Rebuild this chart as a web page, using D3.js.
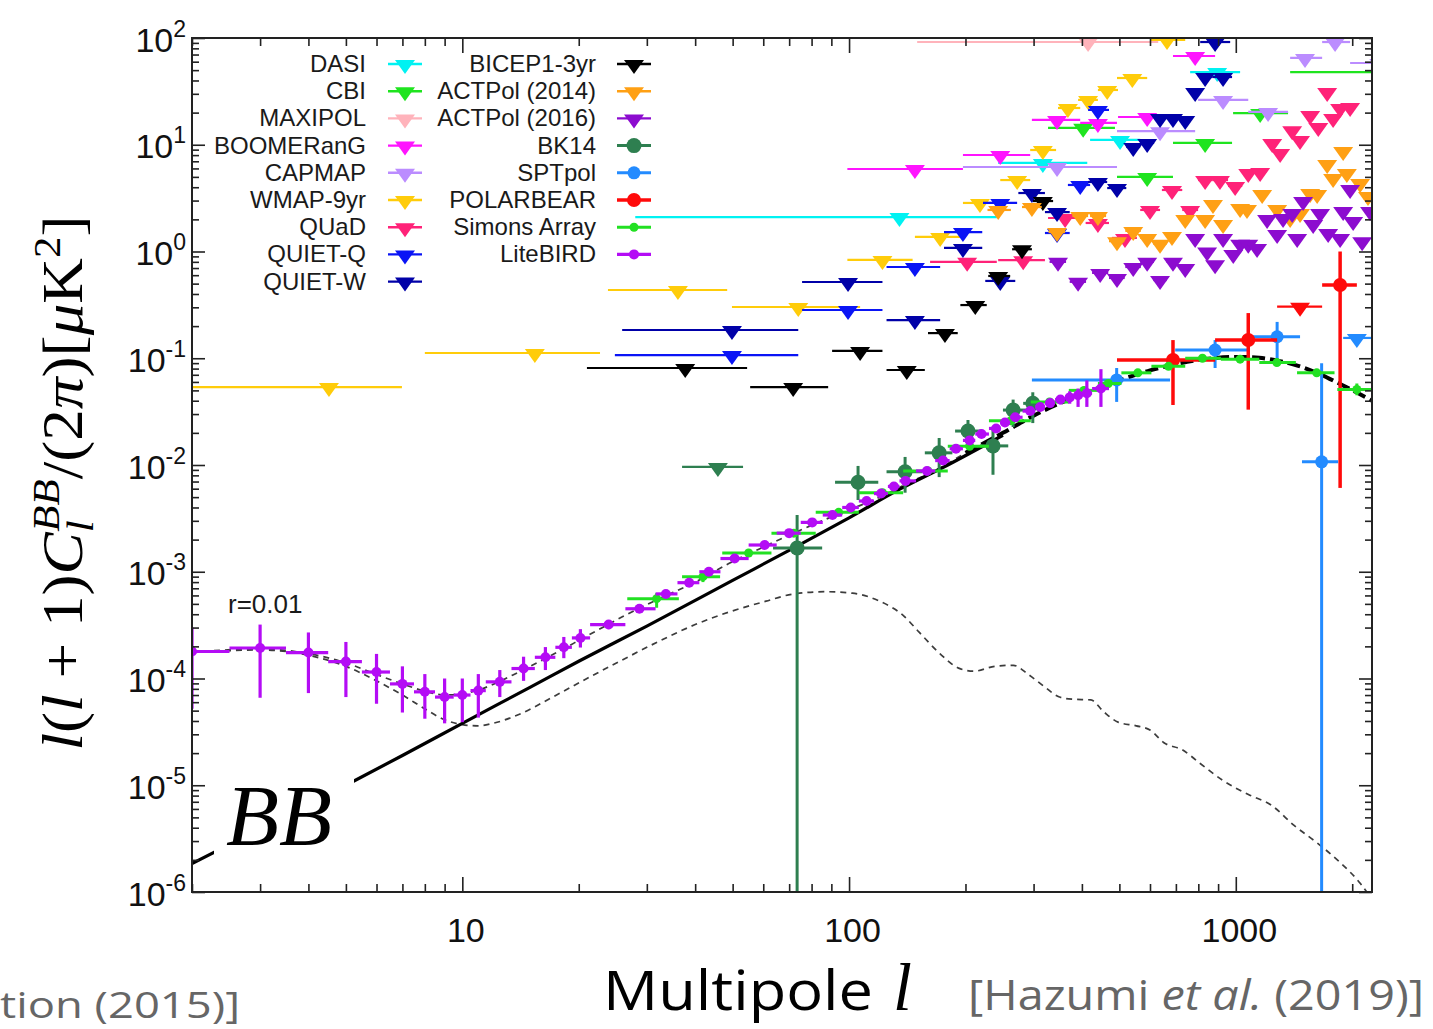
<!DOCTYPE html>
<html>
<head>
<meta charset="utf-8">
<script src="https://cdn.jsdelivr.net/npm/d3@7"></script>
<style>
  html, body { margin: 0; padding: 0; background: #fff; }
  svg { display: block; }
</style>
</head>
<body>
<svg id="chart" width="1433" height="1029"></svg>
<script>
// ---------------- Theory curves: [multipole l, l(l+1)C_l/2pi in uK^2] ----------------
const lensingBB = [[2,1.85e-6],[3,3.9e-6],[5,1.0e-5],[7,1.9e-5],[10,3.8e-5],[15,8.3e-5],[20,1.45e-4],
  [30,3.1e-4],[50,8.3e-4],[73,1.72e-3],[100,3.2e-3],[136,6.0e-3],[180,1.0e-2],[250,1.9e-2]];
const totalHighL = [[200,1.3e-2],[250,2.0e-2],[300,2.9e-2],[400,4.6e-2],[500,6.2e-2],[600,7.7e-2],
  [700,8.8e-2],[850,0.099],[1000,0.103],[1150,0.101],[1300,0.094],[1450,0.085],[1650,0.071],
  [1850,0.058],[2050,0.048],[2250,0.040]];
const totalLowL = [[2,1.77e-4],[3,1.89e-4],[4,1.71e-4],[5,1.4e-4],[6,1.09e-4],[7,8.9e-5],[8,7.6e-5],
  [9,7.0e-5],[10,7.2e-5],[11,7.8e-5],[12,8.8e-5],[14,1.15e-4],[17,1.65e-4],[21,2.5e-4],[26,3.8e-4],
  [32,5.5e-4],[40,8.0e-4],[49,1.2e-3],[61,1.75e-3],[72,2.3e-3],[87,3.1e-3],[102,3.9e-3],[120,5.0e-3],
  [140,6.6e-3],[170,9.2e-3],[200,1.3e-2]];
const tensorBB = [[2,1.75e-4],[3,1.85e-4],[4,1.65e-4],[5,1.3e-4],[6,9.5e-5],[7,7.0e-5],[8,5.2e-5],
  [9,4.1e-5],[10,3.7e-5],[11,3.6e-5],[12,3.8e-5],[14,4.6e-5],[17,6.6e-5],[21,1.0e-4],[26,1.5e-4],
  [32,2.2e-4],[40,3.2e-4],[49,4.2e-4],[61,5.3e-4],[72,6.2e-4],[87,6.5e-4],[102,6.3e-4],[120,5.3e-4],
  [138,3.9e-4],[152,2.7e-4],[172,1.7e-4],[192,1.25e-4],[210,1.17e-4],[238,1.3e-4],[266,1.33e-4],
  [290,1.1e-4],[321,8.3e-5],[350,6.7e-5],[377,6.4e-5],[422,6.3e-5],[455,4.9e-5],[496,3.9e-5],
  [553,3.6e-5],[600,3.3e-5],[652,2.5e-5],[727,2.15e-5],[809,1.6e-5],[929,1.1e-5],[1078,8.2e-6],
  [1236,6.5e-6],[1415,4.2e-6],[1620,2.9e-6],[1858,1.9e-6],[2100,1.2e-6],[2250,8.5e-7]];

// ---------------- Upper limits: [l centre, limit, l min, l max] ----------------
const dasi = [[135,2.1,28,241],[317,6.75,243,413],[502,11.1,420,566],[895,48,762,1026]];
const cbi = [[403,14.4,327,487],[590,5.0,493,688],[833,10.4,688,978],[1156,19.8,984,1365],[2450,48,1382,3200]];
const maxipol = [[415,91.7,150,630]];
const boomerang = [[148,5.93,99,197],[246,8.02,197,294],[345,17.1,297,396],[440,16.0,396,493],
  [590,18.2,496,705],[785,67.8,688,884]];
const capmap = [[345,6.19,197,493],[637,13.4,493,785],[927,26.3,799,1077],[1212,20.3,1077,1365],
  [1510,65,1382,1672],[1806,91.7,1672,1975],[2350,58.3,1975,2800]];
const wmap9 = [[4.52,0.0537,2,6.98],[15.4,0.112,8.0,22.7],[36.1,0.436,23.8,48.4],[73.9,0.302,49.8,106.8],
  [122,0.833,99,146],[172,1.37,148,194],[218,2.85,197,236],[272,4.67,246,294],[317,8.93,294,343],
  [368,22.1,347,396],[415,26.3,391,440],[465,32.6,440,496],[540,42.2,493,590],[664,95.8,600,740]];
const quad = [[202,0.80,162,241],[282,0.83,243,321],[362,2.06,327,400],[440,1.85,409,470],
  [517,1.34,478,555],[600,2.45,566,637],[684,3.77,644,727],[762,2.45,727,799],[833,4.67,799,869],
  [910,4.67,869,955],[996,4.11,955,1039],[1077,5.44,1039,1116],[1156,5.56,1116,1199],
  [1242,10.4,1199,1275],[1302,8.37,1275,1349],[1399,13.7,1349,1433],[1466,11.1,1433,1510],
  [1557,19.0,1520,1594],[1634,14.7,1596,1672],[1723,31.2,1680,1765],[1785,17.8,1765,1805],
  [1861,22.1,1820,1900],[1975,22.6,1930,2020]];
const quietQ = [[49.8,0.107,24.8,73.9],[99.4,0.283,75.6,122],[148,0.716,125,172],[197,1.52,176,221],
  [246,2.85,222,272],[345,1.49,321,372],[396,4.2,368,420],[440,21.2,415,470]];
const quietW = [[49.8,0.184,25.9,73.9],[99.4,0.518,75.6,122],[148,0.228,125,172],[197,1.08,176,221],
  [246,0.53,225,269],[297,3.53,274,321],[345,2.34,321,372],[440,4.48,415,465],[493,3.93,465,521],
  [543,9.53,521,566],[590,10.4,566,615],[637,17.8,615,660],[688,17.8,660,715],[740,17.1,715,766],
  [785,31.2,762,809],[833,43.1,809,869],[927,43.1,869,978],[884,91.7,809,967]];
const bicep1 = [[37.7,0.081,21.0,54.5],[71.7,0.0537,55.5,88.3],[106.8,0.117,90.4,122],[141,0.0776,125,157],
  [177,0.172,160,191],[212,0.315,194,227],[243,0.59,229,261],[280,1.05,264,297],[317,2.97,299,337]];
const actpol2014 = [[243,2.45,228,262],[297,2.61,280,315],[345,1.52,328,362],[396,2.15,378,415],
  [440,2.15,420,462],[493,1.25,470,515],[543,1.56,518,568],[590,1.34,566,615],[637,1.18,612,662],
  [684,1.40,660,710],[740,2.02,712,770],[833,2.02,800,866],[873,2.79,845,900],[927,1.81,895,960],
  [1026,2.56,990,1062],[1069,2.50,1035,1105],[1170,3.46,1130,1210],[1279,2.50,1235,1325],
  [1382,2.06,1340,1425],[1466,2.29,1425,1510],[1557,3.53,1510,1600],[1623,3.46,1580,1665],
  [1723,6.60,1680,1765],[1785,4.88,1740,1830],[1895,8.74,1850,1940],[1937,5.44,1890,1985],
  [2096,4.38,2045,2150],[2197,3.31,2140,2250]];
const actpol2016 = [[347,0.80,330,364],[391,0.52,372,410],[446,0.63,425,468],[493,0.565,470,516],
  [543,0.716,518,568],[590,0.80,566,614],[637,0.54,612,662],[688,0.80,662,714],[740,0.70,714,766],
  [785,1.34,760,810],[843,1.00,815,870],[884,0.76,855,912],[927,1.34,897,957],[985,0.95,955,1015],
  [1026,1.18,995,1057],[1077,1.18,1045,1110],[1135,1.08,1100,1170],[1205,2.02,1170,1240],
  [1279,1.46,1242,1316],[1325,2.06,1288,1362],[1399,2.29,1360,1438],[1441,1.34,1400,1482],
  [1493,2.97,1452,1534],[1585,1.81,1542,1628],[1652,2.29,1608,1696],[1733,1.49,1688,1778],
  [1861,1.34,1815,1907],[1895,2.40,1848,1942],[1975,3.85,1925,2025],[2011,1.93,1960,2062],
  [2122,1.25,2070,2175],[2224,2.40,2170,2280]];
const bk14Limits = [[45.8,0.0096,37.0,53.2]];
const sptpolLimits = [[2056,0.155,1895,2260]];
const polarbearLimits = [[1466,0.304,1279,1672]];

// ---------------- Detections: [l, value, low, high, l min, l max] ----------------
const bk14 = [[73.4,1.67e-3,1e-7,3.4e-3,63.6,85.2],[105.5,6.9e-3,4.7e-3,9.8e-3,92,119],
  [139.6,8.65e-3,5.5e-3,1.19e-2,125,154.5],[171,1.3e-2,7.7e-3,1.79e-2,157,185],
  [203,2.08e-2,1.61e-2,2.64e-2,188,221],[235.6,1.51e-2,8.1e-3,2.13e-2,218,258],
  [265.6,3.27e-2,2.27e-2,4.1e-2,250,289],[298.6,3.78e-2,2.47e-2,4.8e-2,282,317]];
const sptpol = [[492,0.0626,0.039,0.081,297,676],[884,0.1195,0.081,0.148,697,1069],
  [1279,0.159,0.09,0.219,1069,1466],[1667,0.0107,1e-7,0.09,1483,1839]];
const polarbear = [[688,0.0963,0.0365,0.148,493,884],[1077,0.148,0.033,0.265,884,1279],
  [1861,0.486,6.1e-3,1.0,1672,2056]];
const simonsArray = [[31.8,5.6e-4,4.6e-4,6.3e-4,26.7,36.3],[41.9,9.0e-4,8.0e-4,1.0e-3,37.0,46.4],
  [55,1.5e-3,1.4e-3,1.6e-3,47,63],[72,2.3e-3,2.15e-3,2.45e-3,63,82],[94,3.6e-3,3.4e-3,3.8e-3,82,106],
  [122,5.5e-3,5.2e-3,5.8e-3,106,138],[160,8.8e-3,8.4e-3,9.2e-3,138,180],
  [205,1.5e-2,1.43e-2,1.57e-2,180,230],[262,2.6e-2,2.5e-2,2.7e-2,230,295],
  [330,3.9e-2,3.75e-2,4.05e-2,295,370],[405,5.0e-2,4.8e-2,5.2e-2,370,440],
  [468,5.8e-2,5.55e-2,6.05e-2,440,506],[558,7.3e-2,7.0e-2,7.6e-2,506,605],
  [670,8.4e-2,8.0e-2,8.8e-2,605,740],[820,0.100,0.095,0.105,740,915],
  [1026,0.098,0.093,0.103,915,1150],[1277,0.091,0.086,0.096,1150,1430],
  [1619,0.073,0.068,0.078,1440,1800],[2056,0.051,0.045,0.058,1830,2300]];
const liteBIRD = [[2,1.79e-4,5.2e-5,3.0e-4,2,2.5],[3,1.93e-4,6.6e-5,3.2e-4,2.5,3.5],
  [4,1.75e-4,7.3e-5,2.7e-4,3.5,4.5],[5,1.44e-4,6.7e-5,2.2e-4,4.5,5.5],[6,1.15e-4,5.8e-5,1.7e-4,5.5,6.5],
  [7,8.9e-5,4.8e-5,1.3e-4,6.5,7.5],[8,7.5e-5,4.2e-5,1.1e-4,7.5,8.5],[9,6.7e-5,3.8e-5,1.0e-4,8.5,9.5],
  [10,7.0e-5,3.9e-5,1.0e-4,9.5,10.5],[11,7.7e-5,4.3e-5,1.1e-4,10.5,11.5],
  [12.5,9.3e-5,6.7e-5,1.2e-4,11.5,13.4],[14.4,1.24e-4,9.5e-5,1.6e-4,13.4,15.4],
  [16.4,1.58e-4,1.2e-4,1.97e-4,15.4,17.4],[18.3,1.96e-4,1.55e-4,2.45e-4,17.4,19.2],
  [20.2,2.4e-4,1.95e-4,2.9e-4,19.2,21.4],[23.9,3.2e-4,2.9e-4,3.5e-4,21.4,26.4],
  [28.7,4.5e-4,4.2e-4,4.8e-4,26.4,31.6],[33.6,6.2e-4,5.8e-4,6.6e-4,31.6,36],
  [38.6,7.9e-4,7.4e-4,8.4e-4,36,41],[43.4,1.0e-3,9.4e-4,1.06e-3,41,46.5],
  [50.6,1.33e-3,1.25e-3,1.41e-3,46.5,55],[60.5,1.78e-3,1.68e-3,1.88e-3,55,65],
  [70,2.3e-3,2.17e-3,2.43e-3,65,75],[80.3,2.9e-3,2.74e-3,3.06e-3,75,85.5],
  [90.6,3.4e-3,3.2e-3,3.6e-3,85.5,96],[101,4.0e-3,3.78e-3,4.22e-3,96,106],
  [111,4.6e-3,4.35e-3,4.85e-3,106,116],[121,5.4e-3,5.1e-3,5.7e-3,116,126],
  [130.6,6.3e-3,5.95e-3,6.65e-3,126,135],[140,7.1e-3,6.7e-3,7.5e-3,135,149],
  [159,8.8e-3,8.3e-3,9.3e-3,149,167],[175,1.1e-2,1.04e-2,1.16e-2,167,182],
  [189,1.42e-2,1.34e-2,1.5e-2,182,197],[205,1.7e-2,1.6e-2,1.8e-2,197,212],
  [220,1.95e-2,1.84e-2,2.06e-2,212,230],[240,2.2e-2,2.07e-2,2.33e-2,230,246],
  [253,2.5e-2,2.35e-2,2.65e-2,246,261],[269,2.8e-2,2.62e-2,2.98e-2,261,281],
  [294,3.2e-2,2.98e-2,3.42e-2,281,303],[312,3.5e-2,3.24e-2,3.76e-2,303,321],
  [331,3.8e-2,3.48e-2,4.12e-2,321,341],[352,4.1e-2,3.7e-2,4.5e-2,341,362],
  [372,4.3e-2,3.75e-2,4.9e-2,362,381],[391,4.5e-2,3.5e-2,5.2e-2,381,401],
  [412,4.7e-2,3.5e-2,6.2e-2,401,425],[448,5.2e-2,3.5e-2,7.9e-2,425,470]];

// ---------------- Axis labels ----------------
const xTickValues = [10, 100, 1000];
const xTickLabels = ["10", "100", "1000"];
const yTickValues = [1e-6, 1e-5, 1e-4, 1e-3, 1e-2, 1e-1, 1e0, 1e1, 1e2];
const yTickExponents = ["-6", "-5", "-4", "-3", "-2", "-1", "0", "1", "2"];

// ---------------- Experiments (legend order) ----------------
const legendLeft = [
  { name: "DASI",       color: "#00f2f2", kind: "limit", limits: dasi },
  { name: "CBI",        color: "#1fe41f", kind: "limit", limits: cbi },
  { name: "MAXIPOL",    color: "#ffb3bb", kind: "limit", limits: maxipol },
  { name: "BOOMERanG",  color: "#ff14ff", kind: "limit", limits: boomerang },
  { name: "CAPMAP",     color: "#bb8cff", kind: "limit", limits: capmap },
  { name: "WMAP-9yr",   color: "#ffcc0a", kind: "limit", limits: wmap9 },
  { name: "QUaD",       color: "#ff2278", kind: "limit", limits: quad },
  { name: "QUIET-Q",    color: "#0a14f5", kind: "limit", limits: quietQ },
  { name: "QUIET-W",    color: "#0000a8", kind: "limit", limits: quietW }
];
const legendRight = [
  { name: "BICEP1-3yr",    color: "#000000", kind: "limit", limits: bicep1 },
  { name: "ACTPol (2014)", color: "#ffa014", kind: "limit", limits: actpol2014 },
  { name: "ACTPol (2016)", color: "#8c0ccf", kind: "limit", limits: actpol2016 },
  { name: "BK14",          color: "#2e7f50", kind: "point", limits: bk14Limits, points: bk14, r: 7.5, sw: 3 },
  { name: "SPTpol",        color: "#238bff", kind: "point", limits: sptpolLimits, points: sptpol, r: 6.5, sw: 3 },
  { name: "POLARBEAR",     color: "#ff0a0a", kind: "point", limits: polarbearLimits, points: polarbear, r: 7, sw: 3.5 },
  { name: "Simons Array",  color: "#22e022", kind: "point", points: simonsArray, r: 4.5, sw: 3 },
  { name: "LiteBIRD",      color: "#b40cf5", kind: "point", points: liteBIRD, r: 5, sw: 3.2 }
];

// ---------------- Layout ----------------
const X0 = 192, X1 = 1372, Y0 = 38, Y1 = 892;
const x = d3.scaleLog().domain([2, 2250]).range([X0, X1]);
const y = d3.scaleLog().domain([1e-6, 100]).range([Y1, Y0]);

const svg = d3.select("#chart");
svg.append("rect").attr("width", 1433).attr("height", 1029).attr("fill", "#fff");
svg.append("defs").append("clipPath").attr("id", "plotClip")
  .append("rect").attr("x", X0).attr("y", Y0).attr("width", X1 - X0).attr("height", Y1 - Y0);

const plot = svg.append("g").attr("clip-path", "url(#plotClip)");

// Theory curves
const curve = d3.line().x(d => x(d[0])).y(d => y(d[1])).curve(d3.curveMonotoneX);
plot.append("path").attr("d", curve(tensorBB)).attr("fill", "none")
  .attr("stroke", "#3c3c3c").attr("stroke-width", 1.7).attr("stroke-dasharray", "6 5");
plot.append("path").attr("d", curve(totalLowL)).attr("fill", "none")
  .attr("stroke", "#3c3c3c").attr("stroke-width", 1.7).attr("stroke-dasharray", "6 5");
plot.append("path").attr("d", curve(lensingBB)).attr("fill", "none")
  .attr("stroke", "#000").attr("stroke-width", 3.2);
plot.append("path").attr("d", curve(totalHighL)).attr("fill", "none")
  .attr("stroke", "#000").attr("stroke-width", 4).attr("stroke-dasharray", "13 5");

// Down-pointing triangle for an upper limit, bar passing through its upper part
const tri = (cx, cy) => `M${cx - 10},${cy - 4}L${cx + 10},${cy - 4}L${cx},${cy + 10}Z`;

function drawLimits(g, data, color) {
  const gg = g.append("g");
  gg.selectAll("line").data(data).join("line")
    .attr("x1", d => x(d[2])).attr("x2", d => x(d[3]))
    .attr("y1", d => y(d[1])).attr("y2", d => y(d[1]))
    .attr("stroke", color).attr("stroke-width", 2.2);
  gg.selectAll("path").data(data).join("path")
    .attr("d", d => tri(x(d[0]), y(d[1]))).attr("fill", color);
}

function drawPoints(g, data, color, r, sw) {
  const gg = g.append("g");
  gg.selectAll("line.h").data(data).join("line").attr("class", "h")
    .attr("x1", d => x(d[4])).attr("x2", d => x(d[5]))
    .attr("y1", d => y(d[1])).attr("y2", d => y(d[1]))
    .attr("stroke", color).attr("stroke-width", sw);
  gg.selectAll("line.v").data(data).join("line").attr("class", "v")
    .attr("x1", d => x(d[0])).attr("x2", d => x(d[0]))
    .attr("y1", d => y(d[2])).attr("y2", d => y(d[3]))
    .attr("stroke", color).attr("stroke-width", sw);
  gg.selectAll("circle").data(data).join("circle")
    .attr("cx", d => x(d[0])).attr("cy", d => y(d[1])).attr("r", r).attr("fill", color);
}

const allSeries = legendLeft.concat(legendRight);
allSeries.forEach(s => { if (s.limits) drawLimits(plot, s.limits, s.color); });
allSeries.forEach(s => { if (s.points) drawPoints(plot, s.points, s.color, s.r, s.sw); });

// ---------------- Axes: ticks point inward on all four sides ----------------
const minorX = [];
[1, 10, 100, 1000].forEach(dec => { for (let k = 2; k <= 9; k++) { const v = k * dec; if (v >= 2 && v <= 2250 && v !== 10 && v !== 100 && v !== 1000) minorX.push(v); } });
const minorY = [];
for (let e = -6; e < 2; e++) for (let k = 2; k <= 9; k++) minorY.push(k * Math.pow(10, e));

const axisStyle = g => { g.select(".domain").remove(); g.selectAll("line").attr("stroke", "#222").attr("stroke-width", 1.6); };

svg.append("g").attr("transform", `translate(0,${Y1})`)
  .call(d3.axisBottom(x).tickValues(minorX).tickSizeInner(-8).tickSizeOuter(0).tickFormat(""))
  .call(axisStyle);
svg.append("g").attr("transform", `translate(0,${Y1})`)
  .call(d3.axisBottom(x).tickValues(xTickValues).tickSizeInner(-15).tickSizeOuter(0).tickPadding(26)
    .tickFormat((d, i) => xTickLabels[i]))
  .call(axisStyle)
  .call(g => g.selectAll("text").attr("font-family", "Liberation Sans, Arial, sans-serif")
    .attr("font-size", 34).attr("fill", "#111").attr("dx", 3));
svg.append("g").attr("transform", `translate(0,${Y0})`)
  .call(d3.axisTop(x).tickValues(minorX).tickSizeInner(-8).tickSizeOuter(0).tickFormat(""))
  .call(axisStyle);
svg.append("g").attr("transform", `translate(0,${Y0})`)
  .call(d3.axisTop(x).tickValues(xTickValues).tickSizeInner(-15).tickSizeOuter(0).tickFormat(""))
  .call(axisStyle);

svg.append("g").attr("transform", `translate(${X0},0)`)
  .call(d3.axisLeft(y).tickValues(minorY).tickSizeInner(-7).tickSizeOuter(0).tickFormat(""))
  .call(axisStyle);
const yMajorAxis = svg.append("g").attr("transform", `translate(${X0},0)`)
  .call(d3.axisLeft(y).tickValues(yTickValues).tickSizeInner(-13).tickSizeOuter(0).tickFormat(""))
  .call(axisStyle);
svg.append("g").attr("transform", `translate(${X1},0)`)
  .call(d3.axisRight(y).tickValues(minorY).tickSizeInner(-7).tickSizeOuter(0).tickFormat(""))
  .call(axisStyle);
svg.append("g").attr("transform", `translate(${X1},0)`)
  .call(d3.axisRight(y).tickValues(yTickValues).tickSizeInner(-13).tickSizeOuter(0).tickFormat(""))
  .call(axisStyle);

// y tick labels as 10 with a raised exponent
yMajorAxis.selectAll(".tick").each(function (d, i) {
  const t = d3.select(this).append("text")
    .attr("x", -6).attr("y", 13).attr("text-anchor", "end")
    .attr("font-family", "Liberation Sans, Arial, sans-serif").attr("fill", "#111");
  t.append("tspan").attr("font-size", 34).text("10");
  t.append("tspan").attr("font-size", 23).attr("dy", -15).text(yTickExponents[i]);
});

// Plot frame
svg.append("rect").attr("x", X0).attr("y", Y0).attr("width", X1 - X0).attr("height", Y1 - Y0)
  .attr("fill", "none").attr("stroke", "#222").attr("stroke-width", 2);

// ---------------- Legend ----------------
const legend = svg.append("g").attr("font-family", "Liberation Sans, Arial, sans-serif").attr("font-size", 24).attr("fill", "#1a1a1a");
function legendColumn(items, labelX, symX, y0) {
  items.forEach((s, i) => {
    const cy = y0 + i * 27.2;
    legend.append("text").attr("x", labelX).attr("y", cy + 8).attr("text-anchor", "end").text(s.name);
    if (s.kind === "limit") {
      legend.append("line").attr("x1", symX - 17).attr("x2", symX + 17).attr("y1", cy).attr("y2", cy)
        .attr("stroke", s.color).attr("stroke-width", 2.4);
      legend.append("path").attr("d", tri(symX, cy)).attr("fill", s.color);
    } else {
      legend.append("line").attr("x1", symX - 17).attr("x2", symX + 17).attr("y1", cy).attr("y2", cy)
        .attr("stroke", s.color).attr("stroke-width", s.sw);
      legend.append("circle").attr("cx", symX).attr("cy", cy).attr("r", s.r).attr("fill", s.color);
    }
  });
}
legendColumn(legendLeft, 366, 405, 64);
legendColumn(legendRight, 596, 634, 64);

// ---------------- Annotations ----------------
svg.append("text").attr("x", 228).attr("y", 613)
  .attr("font-family", "Liberation Sans, Arial, sans-serif").attr("font-size", 26).attr("fill", "#1a1a1a")
  .text("r=0.01");

svg.append("rect").attr("x", 214).attr("y", 774).attr("width", 140).attr("height", 80).attr("fill", "#fff");
svg.append("text").attr("x", 226).attr("y", 845)
  .attr("font-family", "Liberation Serif, Times New Roman, serif").attr("font-style", "italic")
  .attr("font-size", 86).attr("textLength", 106).attr("lengthAdjust", "spacingAndGlyphs")
  .attr("fill", "#000").text("BB");

// y-axis title
const yTitle = svg.append("text").attr("transform", "translate(82,483) rotate(-90)")
  .attr("text-anchor", "middle").attr("font-family", "Liberation Serif, Times New Roman, serif")
  .attr("font-size", 56).attr("textLength", 535).attr("lengthAdjust", "spacingAndGlyphs")
  .attr("fill", "#000");
yTitle.append("tspan").attr("font-style", "italic").text("l");
yTitle.append("tspan").text("(");
yTitle.append("tspan").attr("font-style", "italic").text("l");
yTitle.append("tspan").text(" + 1)");
yTitle.append("tspan").attr("font-style", "italic").text("C");
yTitle.append("tspan").attr("font-style", "italic").attr("font-size", 38).attr("dy", 11).text("l");
yTitle.append("tspan").attr("font-style", "italic").attr("font-size", 38).attr("dx", -10).attr("dy", -34).text("BB");
yTitle.append("tspan").attr("dy", 23).text("/(2");
yTitle.append("tspan").attr("font-style", "italic").text("π");
yTitle.append("tspan").text(")[");
yTitle.append("tspan").attr("font-style", "italic").text("μ");
yTitle.append("tspan").text("K");
yTitle.append("tspan").attr("font-size", 38).attr("dy", -22).text("2");
yTitle.append("tspan").attr("dy", 22).text("]");

// x-axis title and credits
svg.append("text").attr("x", 603).attr("y", 1010)
  .attr("font-family", "Open Sans, Noto Sans, sans-serif").attr("font-size", 54)
  .attr("textLength", 270).attr("lengthAdjust", "spacingAndGlyphs").attr("fill", "#000")
  .text("Multipole");
svg.append("text").attr("x", 893).attr("y", 1010)
  .attr("font-family", "Liberation Serif, serif").attr("font-style", "italic")
  .attr("font-size", 68).attr("fill", "#000").text("l");

const credit = svg.append("text").attr("x", 968).attr("y", 1010)
  .attr("font-family", "Open Sans, Noto Sans, sans-serif").attr("font-size", 42)
  .attr("textLength", 456).attr("lengthAdjust", "spacingAndGlyphs").attr("fill", "#666");
credit.append("tspan").text("[Hazumi ");
credit.append("tspan").attr("font-style", "italic").text("et al.");
credit.append("tspan").text(" (2019)]");

svg.append("text").attr("x", 0).attr("y", 1018)
  .attr("font-family", "Open Sans, Noto Sans, sans-serif").attr("font-size", 36)
  .attr("textLength", 240).attr("lengthAdjust", "spacingAndGlyphs").attr("fill", "#666")
  .text("tion (2015)]");
</script>
</body>
</html>
